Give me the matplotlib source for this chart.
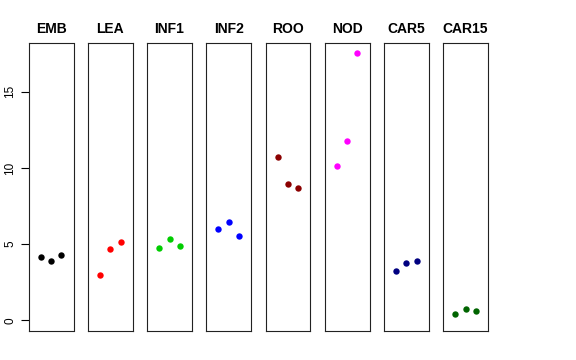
import matplotlib
matplotlib.use("Agg")
import matplotlib.pyplot as plt

groups = ["EMB", "LEA", "INF1", "INF2", "ROO", "NOD", "CAR5", "CAR15"]
colors = ["black", "red", "#00CD00", "blue", "#8B0000", "magenta", "#000080", "#006400"]
rep_x = [1, 2, 3]
EMB = [4.18, 3.92, 4.27]
LEA = [2.98, 4.68, 5.12]
INF1 = [4.73, 5.36, 4.88]
INF2 = [5.98, 6.48, 5.52]
ROO = [10.73, 8.94, 8.67]
NOD = [10.12, 11.76, 17.52]
CAR5 = [3.26, 3.76, 3.90]
CAR15 = [0.43, 0.74, 0.61]
values = [EMB, LEA, INF1, INF2, ROO, NOD, CAR5, CAR15]
yticks = [0, 5, 10, 15]

plt.rcParams['font.family'] = ['Liberation Sans', 'DejaVu Sans']
W, H = 576, 360
fig = plt.figure(figsize=(W / 100, H / 100), dpi=100)

left0, step, width = 28.7, 59.2, 44.8
top, bottom = 43, 331
ymax = 17.5
pad = 0.04 * ymax
for i, (g, c, v) in enumerate(zip(groups, colors, values)):
    ax = fig.add_axes([(left0 + i * step) / W, (H - bottom) / H, width / W, (bottom - top) / H])
    ax.plot(rep_x, v, 'o', color=c, markersize=4.6, markeredgewidth=0)
    ax.set_xlim(-0.16, 4.16)
    ax.set_ylim(-pad, ymax + pad)
    ax.set_xticks([])
    for s in ax.spines.values():
        s.set_linewidth(0.8)
        s.set_color('#222222')
    if i == 0:
        ax.set_yticks(yticks)
        ax.set_yticklabels([str(t) for t in yticks], rotation=90, va='center', fontsize=8.5)
        ax.tick_params(axis='y', length=6, width=0.8, pad=3)
    else:
        ax.set_yticks([])
    ax.text(0.5, 1 + (top - 29.3) / (bottom - top), g, transform=ax.transAxes,
            ha='center', va='center', fontsize=10, fontweight='bold')

fig.savefig("out.png", dpi=100)
